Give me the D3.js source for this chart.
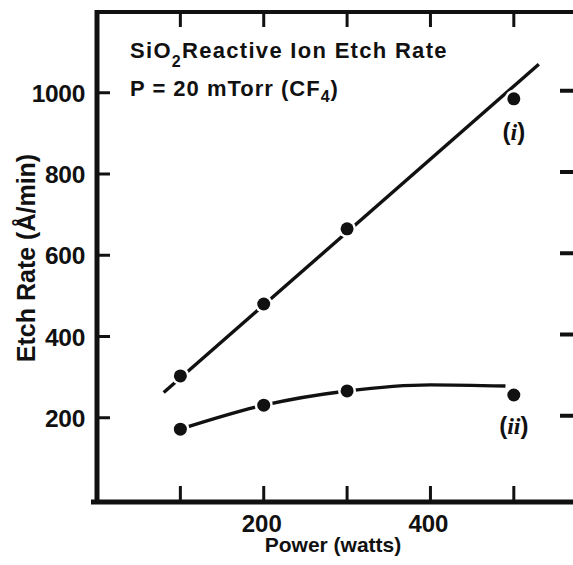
<!DOCTYPE html>
<html>
<head>
<meta charset="utf-8">
<script src="https://cdn.jsdelivr.net/npm/d3@7"></script>
<style>
  html, body { margin: 0; padding: 0; background: #fff; }
  svg { display: block; }
  text { font-family: "Liberation Sans", Arial, sans-serif; fill: #111; font-weight: bold; }
</style>
</head>
<body>
<svg id="chart" width="573" height="565"></svg>
<script>
// Measured etch rates, SiO2 in CF4 at 20 mTorr
const power = [100, 200, 300, 500];
const rateI = [303, 480, 665, 985];
const rateII = [172, 231, 266, 256];

// Fitted trend lines drawn through the measurements
const fitI = [[80, 262], [530, 1070]];
const fitII = [[100, 172], [200, 231], [300, 266], [400, 281], [490, 278]];

const xTicks = [100, 200, 300, 400, 500];
const xLabels = [200, 400];
const yTicks = [200, 400, 600, 800, 1000];

const svg = d3.select("#chart");
const frame = { left: 97, right: 573, top: 12, bottom: 502 };

const x = d3.scaleLinear().domain([0, 571]).range([frame.left, frame.right]);
const y = d3.scaleLinear().domain([0, 1200]).range([499, 11.5]);

const ink = "#111";

// Frame: left and bottom axes plus the top rule
svg.append("line").attr("x1", frame.left).attr("x2", frame.left).attr("y1", frame.top - 2).attr("y2", frame.bottom + 2)
  .attr("stroke", ink).attr("stroke-width", 5);
svg.append("line").attr("x1", frame.left - 6).attr("x2", frame.right).attr("y1", frame.bottom).attr("y2", frame.bottom)
  .attr("stroke", ink).attr("stroke-width", 5);
svg.append("line").attr("x1", frame.left - 2).attr("x2", frame.right).attr("y1", frame.top).attr("y2", frame.top)
  .attr("stroke", ink).attr("stroke-width", 4);

// Bottom and top tick marks, pointing into the plot
svg.append("g").selectAll("line").data(xTicks).join("line")
  .attr("x1", d => x(d)).attr("x2", d => x(d)).attr("y1", frame.bottom).attr("y2", frame.bottom - 16)
  .attr("stroke", ink).attr("stroke-width", 3);
svg.append("g").selectAll("line").data(xTicks).join("line")
  .attr("x1", d => x(d)).attr("x2", d => x(d)).attr("y1", frame.top).attr("y2", frame.top + 15)
  .attr("stroke", ink).attr("stroke-width", 3);
svg.append("g").selectAll("text").data(xLabels).join("text")
  .attr("x", d => x(d) - 2).attr("y", 532).attr("text-anchor", "middle")
  .attr("font-size", 24).text(d => d);

// Left axis ticks and labels, right-side tick marks
svg.append("g").selectAll("line").data(yTicks).join("line")
  .attr("x1", frame.left).attr("x2", frame.left + 13).attr("y1", d => y(d)).attr("y2", d => y(d))
  .attr("stroke", ink).attr("stroke-width", 3);
svg.append("g").selectAll("line").data(yTicks).join("line")
  .attr("x1", 560).attr("x2", frame.right).attr("y1", d => y(d) - 2).attr("y2", d => y(d) - 2)
  .attr("stroke", ink).attr("stroke-width", 4);
svg.append("g").selectAll("text").data(yTicks).join("text")
  .attr("x", 85).attr("y", d => y(d) + 9).attr("text-anchor", "end")
  .attr("font-size", 24.5).attr("letter-spacing", -0.3).text(d => d);

// Axis titles
svg.append("text").attr("x", 333).attr("y", 552).attr("text-anchor", "middle")
  .attr("font-size", 21).text("Power (watts)");
svg.append("text").attr("transform", "translate(35,258) rotate(-90)").attr("text-anchor", "middle")
  .attr("font-size", 25).text("Etch Rate (Å/min)");

// Plot heading
const h1 = svg.append("text").attr("x", 130).attr("y", 58).attr("font-size", 22).attr("letter-spacing", 1.3);
h1.append("tspan").text("SiO");
h1.append("tspan").attr("font-size", 16).attr("dy", 9).text("2");
h1.append("tspan").attr("dy", -9).text("Reactive Ion Etch Rate");
const h2 = svg.append("text").attr("x", 130).attr("y", 96).attr("font-size", 22).attr("letter-spacing", 1);
h2.append("tspan").text("P = 20 mTorr (CF");
h2.append("tspan").attr("font-size", 16).attr("dy", 6).text("4");
h2.append("tspan").attr("dy", -6).text(")");

// Trend lines
const straight = d3.line().x(d => x(d[0])).y(d => y(d[1]));
const smooth = d3.line().x(d => x(d[0])).y(d => y(d[1])).curve(d3.curveMonotoneX);
svg.append("path").datum(fitI).attr("d", straight)
  .attr("fill", "none").attr("stroke", ink).attr("stroke-width", 3.4);
svg.append("path").datum(fitII).attr("d", smooth)
  .attr("fill", "none").attr("stroke", ink).attr("stroke-width", 3.4);

// Data points: a white halo breaks the line around each solid dot
function dots(vals) {
  const pts = power.map((p, i) => [p, vals[i]]);
  const g = svg.append("g");
  g.selectAll(".halo").data(pts).join("circle").attr("class", "halo")
    .attr("cx", d => x(d[0])).attr("cy", d => y(d[1])).attr("r", 9).attr("fill", "#fff");
  g.selectAll(".dot").data(pts).join("circle").attr("class", "dot")
    .attr("cx", d => x(d[0])).attr("cy", d => y(d[1])).attr("r", 6.5).attr("fill", ink);
}
dots(rateI);
dots(rateII);

// Curve labels
function curveLabel(yPos, roman) {
  const t = svg.append("text").attr("x", x(500)).attr("y", yPos).attr("text-anchor", "middle")
    .attr("font-size", 24);
  t.append("tspan").text("(");
  t.append("tspan").attr("font-style", "italic").attr("font-family", "Liberation Serif, serif").text(roman);
  t.append("tspan").text(")");
}
curveLabel(140, "i");
curveLabel(434, "ii");
</script>
</body>
</html>
